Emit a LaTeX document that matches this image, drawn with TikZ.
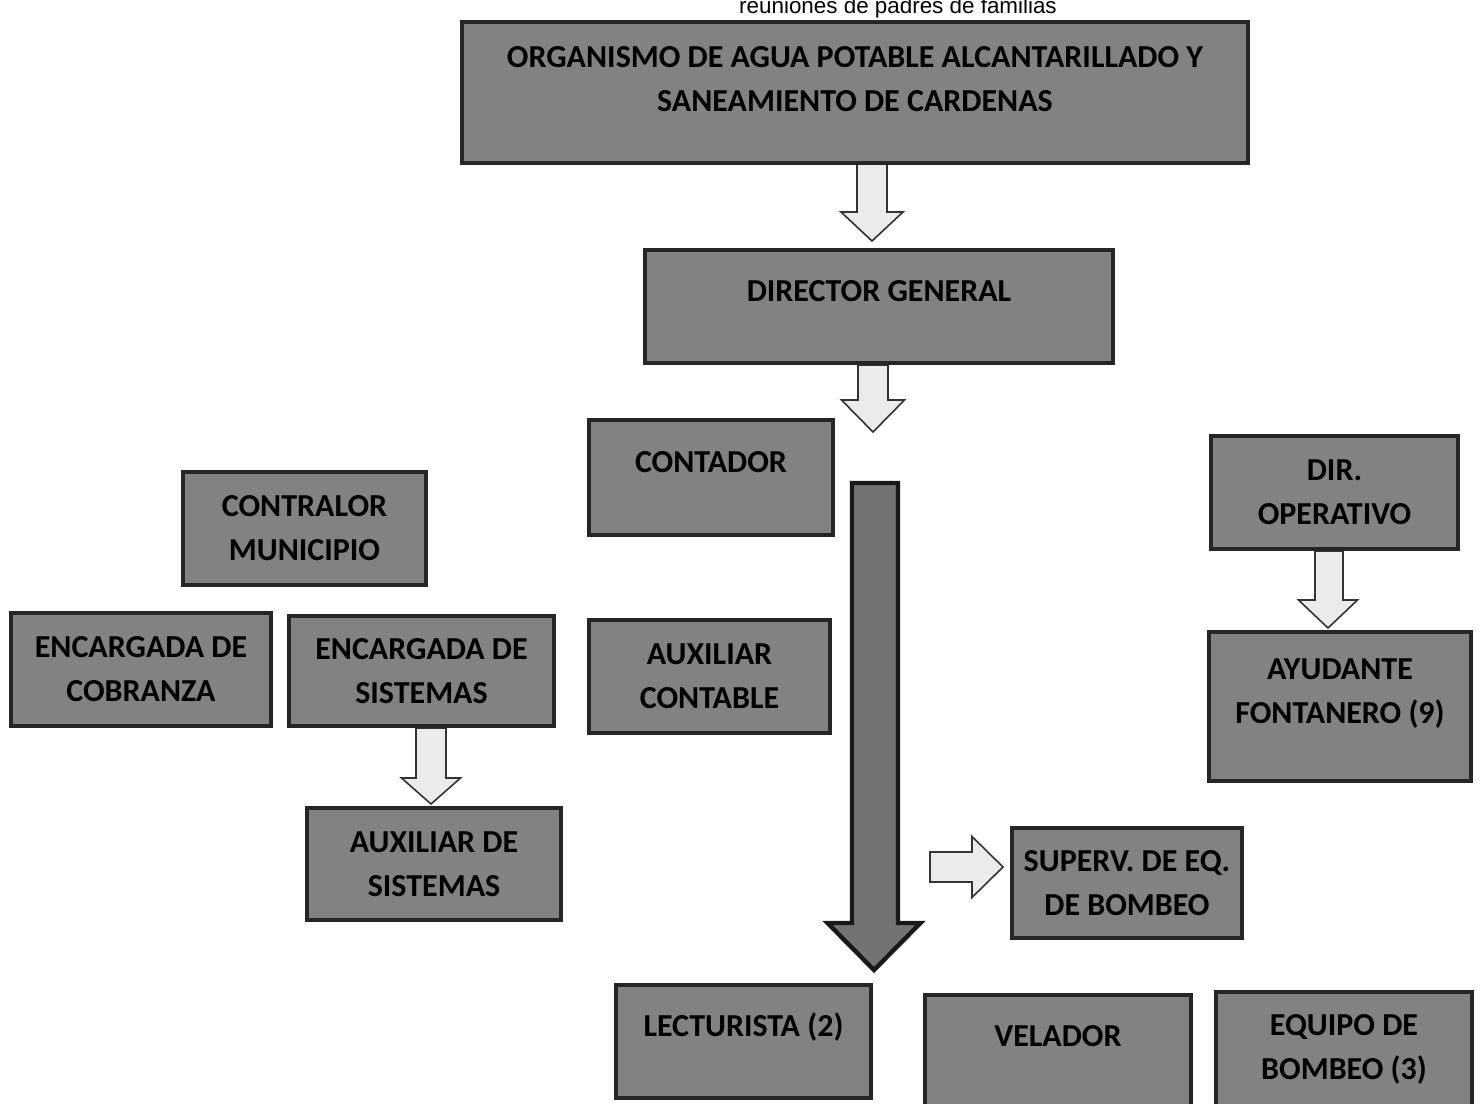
\documentclass[tikz,border=0pt]{standalone}
\usepackage{fontspec}
\setmainfont{Carlito}
\newfontfamily\notafont{Liberation Sans}
\usetikzlibrary{calc}

\tikzset{
  cargo/.style={draw=black!85, line width=2pt, fill=black!49,
    font=\bfseries\fontsize{16}{22}\selectfont, align=center, inner sep=0pt},
  rotulo/.style={font=\bfseries\fontsize{16}{22}\selectfont, align=center, inner sep=0pt},
  flechaclara/.style={draw=black!80, line width=0.8pt, fill=black!8},
  flechaoscura/.style={draw=black!90, line width=2.2pt, fill=black!55},
}

% block arrow pointing down: style, start, tip, half shaft, half head, head length
\newcommand{\bajada}[6]{%
  \draw[#1] let \p1=(#2), \p2=(#3) in
    (\x1-#4,\y1) -- (\x1+#4,\y1) -- (\x1+#4,\y2+#6) -- (\x2+#5,\y2+#6)
    -- (\x2,\y2) -- (\x2-#5,\y2+#6) -- (\x1-#4,\y2+#6) -- cycle;}
% block arrow pointing right
\newcommand{\avance}[6]{%
  \draw[#1] let \p1=(#2), \p2=(#3) in
    (\x1,\y1+#4) -- (\x2-#6,\y1+#4) -- (\x2-#6,\y2+#5) -- (\x2,\y2)
    -- (\x2-#6,\y2-#5) -- (\x2-#6,\y1-#4) -- (\x1,\y1-#4) -- cycle;}

\begin{document}
\begin{tikzpicture}[x=0.5pt, y=-0.5pt]
  \useasboundingbox (0,0) rectangle (1480,1104);
  \clip (0,0) rectangle (1480,1104);

  \node[font=\notafont\fontsize{11.2}{12}\selectfont, anchor=base, inner sep=0pt] (nota) at (898,13) {reuniones de padres de familias};

  % arrows first, the boxes cover their ends
  \coordinate (f1a) at (872,163);  \coordinate (f1b) at (872,241);
  \coordinate (f2a) at (873,365);  \coordinate (f2b) at (873,432);
  \coordinate (f3a) at (875,483);  \coordinate (f3b) at (874,970);
  \coordinate (f4a) at (431,728);  \coordinate (f4b) at (431,804);
  \coordinate (f5a) at (1329,551); \coordinate (f5b) at (1328,628);
  \coordinate (f6a) at (930,867);  \coordinate (f6b) at (1003,867);

  \bajada{flechaclara}{f1a}{f1b}{7.5pt}{15.5pt}{14.5pt}
  \bajada{flechaclara}{f2a}{f2b}{7.5pt}{15.75pt}{16pt}
  \bajada{flechaoscura}{f3a}{f3b}{11.5pt}{23.25pt}{23.5pt}
  \bajada{flechaclara}{f4a}{f4b}{7.5pt}{14.75pt}{13pt}
  \bajada{flechaclara}{f5a}{f5b}{7pt}{14.75pt}{14pt}
  \avance{flechaclara}{f6a}{f6b}{7.5pt}{15.25pt}{15.5pt}

  % boxes
  \node[cargo, minimum width=393pt, minimum height=70.5pt] (org) at (855,92.5) {};
  \node[rotulo] (org-t) at (855,79) {ORGANISMO DE AGUA POTABLE ALCANTARILLADO Y\\SANEAMIENTO DE CARDENAS};

  \node[cargo, minimum width=234pt, minimum height=56.5pt] (dirgen) at (879,306.5) {};
  \node[rotulo] (dirgen-t) at (879,291) {DIRECTOR GENERAL};

  \node[cargo, minimum width=122pt, minimum height=57.5pt] (contador) at (711,477.5) {};
  \node[rotulo] (contador-t) at (711,462) {CONTADOR};

  \node[cargo, minimum width=121.5pt, minimum height=56.5pt] (contralor) at (304.5,528.5) {CONTRALOR\\MUNICIPIO};
  \node[cargo, minimum width=130pt, minimum height=56.5pt] (cobranza) at (141,669.5) {ENCARGADA DE\\COBRANZA};
  \node[cargo, minimum width=132.5pt, minimum height=55pt] (sistemas) at (421.5,671) {ENCARGADA DE\\SISTEMAS};
  \node[cargo, minimum width=120.5pt, minimum height=56.5pt] (auxcont) at (709.5,676.5) {AUXILIAR\\CONTABLE};
  \node[cargo, minimum width=127pt, minimum height=56pt] (auxsist) at (434,864) {AUXILIAR DE\\SISTEMAS};
  \node[cargo, minimum width=123.5pt, minimum height=56.5pt] (dirop) at (1334.5,492.5) {DIR.\\OPERATIVO};

  \node[cargo, minimum width=131pt, minimum height=74.5pt] (ayudante) at (1340,706.5) {};
  \node[rotulo] (ayudante-t) at (1340,693.5) {AYUDANTE\\FONTANERO (9)};

  \node[cargo, minimum width=115pt, minimum height=55pt] (superv) at (1127,883) {SUPERV. DE EQ.\\DE BOMBEO};

  \node[cargo, minimum width=127.5pt, minimum height=56.5pt] (lecturista) at (743.5,1041.5) {};
  \node[rotulo] (lecturista-t) at (743.5,1027) {LECTURISTA (2)};

  \node[cargo, minimum width=133pt, minimum height=57.5pt] (velador) at (1058,1052.5) {};
  \node[rotulo] (velador-t) at (1058,1036) {VELADOR};

  \node[cargo, minimum width=128pt, minimum height=57pt] (equipo) at (1344,1049) {EQUIPO DE\\BOMBEO (3)};
\end{tikzpicture}
\end{document}
